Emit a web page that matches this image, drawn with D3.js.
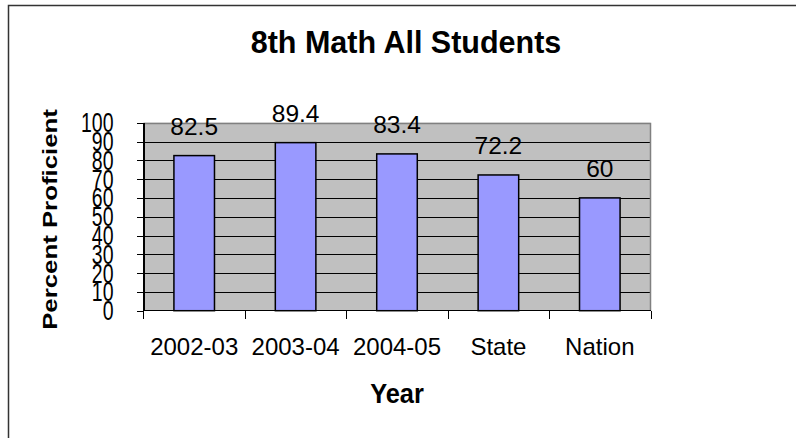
<!DOCTYPE html>
<head>
  <meta charset='utf-8'>
  <style>
      body { margin: 0; background: #fff; }
      text { font-family: 'Liberation Sans', Arial, sans-serif; fill: #000; }
      .grid line { stroke: #000; stroke-width: 1px; }
      .bar { fill: #9999ff; stroke: #000; stroke-width: 1.5px; }
      .axis path, .axis line { stroke: #000; shape-rendering: crispEdges; }
  </style>
</head>
<body>
<script src='https://d3js.org/d3.v7.min.js'></script>
<script>
    var
        W = 796,
        H = 438,
        categories = ['2002-03', '2003-04', '2004-05', 'State', 'Nation'],
        values = [82.5, 89.4, 83.4, 72.2, 60],
        yTicks = [0, 10, 20, 30, 40, 50, 60, 70, 80, 90, 100],
        title = '8th Math All Students',
        xTitle = 'Year',
        yTitle = 'Percent Proficient';

    var
        plot = {left: 143.5, right: 650.5, top: 122.7, bottom: 310.7},
        x = d3.scaleBand()
            .domain(categories)
            .range([plot.left, plot.right])
            .paddingInner(0.6)
            .paddingOuter(0.3),
        y = d3.scaleLinear()
            .domain([0, 100])
            .range([plot.bottom, plot.top]);

    var svg = d3.select('body')
        .append('svg')
            .attr('width', W)
            .attr('height', H);

    // frame (only top and left edges show in the crop)
    svg.append('path')
        .attr('d', 'M8.5,' + H + 'V5.5H' + W)
        .attr('fill', 'none')
        .attr('stroke', '#333')
        .attr('stroke-width', 1.5);

    svg.append('rect')
        .attr('x', plot.left)
        .attr('y', plot.top)
        .attr('width', plot.right - plot.left)
        .attr('height', plot.bottom - plot.top)
        .attr('fill', '#c0c0c0');

    svg.append('g')
        .attr('class', 'grid')
        .selectAll('line')
        .data(yTicks.filter(function(d) { return d > 0 && d < 100; }))
        .enter().append('line')
            .attr('x1', plot.left)
            .attr('x2', plot.right)
            .attr('y1', function(d) { return Math.round(y(d)) + 0.5; })
            .attr('y2', function(d) { return Math.round(y(d)) + 0.5; });

    // grey border on top and right
    svg.append('path')
        .attr('d', 'M' + plot.left + ',' + (Math.round(plot.top) + 0.5) + 'H' + plot.right + 'V' + plot.bottom)
        .attr('fill', 'none')
        .attr('stroke', '#808080')
        .attr('stroke-width', 1.5);

    svg.selectAll('.bar')
        .data(values)
        .enter().append('rect')
            .attr('class', 'bar')
            .attr('x', function(d, i) { return x(categories[i]); })
            .attr('width', x.bandwidth())
            .attr('y', function(d) { return y(d); })
            .attr('height', function(d) { return plot.bottom - y(d); });

    svg.selectAll('.value')
        .data(values)
        .enter().append('text')
            .attr('class', 'value')
            .attr('text-anchor', 'middle')
            .attr('font-size', 24.5)
            .attr('x', function(d, i) { return x(categories[i]) + x.bandwidth() / 2; })
            .attr('y', function(d) { return y(d) - 21; })
            .text(function(d) { return d; });

    // y axis; the labels are drawn tall and narrow, so they crowd each other
    var yAxis = svg.append('g')
        .attr('class', 'axis')
        .attr('transform', 'translate(' + plot.left + ',0)')
        .call(d3.axisLeft(y).tickValues(yTicks).tickSize(7).tickPadding(23).tickSizeOuter(0));
    yAxis.select('.domain').attr('stroke-width', 1.5);
    yAxis.selectAll('text')
        .attr('font-size', 19.5)
        .attr('transform', 'scale(1,1.45)');

    // x axis, ticks on category boundaries
    var step = x.step(),
        boundaries = categories.map(function(c) { return x(c) - (step - x.bandwidth()) / 2; })
            .concat([plot.right]);
    var xAxis = svg.append('g')
        .attr('class', 'axis')
        .attr('transform', 'translate(0,' + plot.bottom + ')');
    xAxis.append('line')
        .attr('x1', plot.left)
        .attr('x2', plot.right)
        .attr('stroke-width', 1.5);
    xAxis.selectAll('.tick')
        .data(boundaries)
        .enter().append('line')
            .attr('x1', function(d) { return Math.round(d) + 0.5; })
            .attr('x2', function(d) { return Math.round(d) + 0.5; })
            .attr('y2', 8);
    xAxis.selectAll('.label')
        .data(categories)
        .enter().append('text')
            .attr('text-anchor', 'middle')
            .attr('font-size', 24)
            .attr('x', function(d) { return x(d) + x.bandwidth() / 2; })
            .attr('y', 355 - plot.bottom)
            .text(function(d) { return d; });

    function stretched(tx, ty, rot, size, sy, str) {
        svg.append('text')
            .attr('transform', 'translate(' + tx + ',' + ty + ') rotate(' + rot + ') scale(1,' + sy + ')')
            .attr('text-anchor', 'middle')
            .attr('font-weight', 'bold')
            .attr('font-size', size)
            .text(str);
    }

    stretched(406, 53, 0, 30.5, 1.05, title);
    stretched((plot.left + plot.right) / 2, 403, 0, 25.4, 1.1, xTitle);
    stretched(57, 219.5, -90, 25.8, 0.75, yTitle);
</script>
</body>
